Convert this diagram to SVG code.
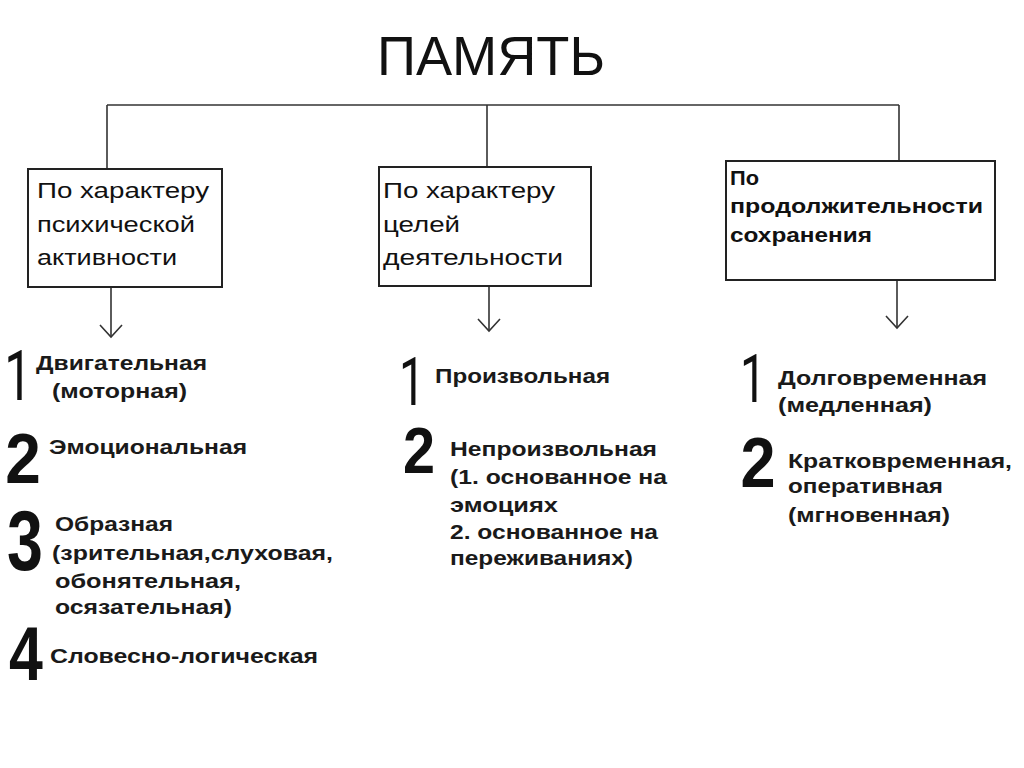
<svg xmlns="http://www.w3.org/2000/svg" width="1024" height="768" viewBox="0 0 1024 768">
<defs>
<style>
.box{fill:#fff;stroke:#222;stroke-width:2}
.ln{fill:none;stroke:#333;stroke-width:1.6}
.bt{font-family:"Liberation Sans Narrow","Liberation Sans",Arial,sans-serif;font-size:22px;fill:#111}
.bt3{font-family:"Liberation Sans",Arial,sans-serif;font-size:20px;font-weight:bold;fill:#111}
.it{font-family:"Liberation Sans",Arial,sans-serif;font-size:20px;font-weight:bold;fill:#1a1a1a}
.d1{font-family:Roboto,"Liberation Sans",Arial,sans-serif;fill:#111;text-anchor:middle}
.d2{font-family:"Liberation Sans",Arial,sans-serif;font-weight:bold;fill:#111;text-anchor:middle}
</style>
<marker id="arr" markerUnits="userSpaceOnUse" viewBox="-14 -12 16 24" refX="0" refY="0" markerWidth="16" markerHeight="24" orient="auto" overflow="visible">
<path d="M-12,-11 L0,0 L-12,11" fill="none" stroke="#333" stroke-width="1.6"/>
</marker>
</defs>
<rect width="1024" height="768" fill="#fff"/>

<g id="title">
<text x="377" y="75" font-family="Liberation Sans, Arial, sans-serif" font-size="56" fill="#111" textLength="228" lengthAdjust="spacingAndGlyphs">ПАМЯТЬ</text>
</g>

<g id="connectors">
<path class="ln" d="M107,105 H899"/>
<path class="ln" d="M107,105 V169"/>
<path class="ln" d="M487,105 V167"/>
<path class="ln" d="M899,105 V161"/>
<path class="ln" d="M111,288 V337" marker-end="url(#arr)"/>
<path class="ln" d="M489,287 V331" marker-end="url(#arr)"/>
<path class="ln" d="M897,281 V328" marker-end="url(#arr)"/>
</g>

<g id="node-activity">
<rect class="box" x="28" y="169" width="194" height="118"/>
<text class="bt" x="37" y="198" textLength="172" lengthAdjust="spacingAndGlyphs">По характеру</text>
<text class="bt" x="37" y="232" textLength="158" lengthAdjust="spacingAndGlyphs">психической</text>
<text class="bt" x="37" y="265" textLength="140" lengthAdjust="spacingAndGlyphs">активности</text>
</g>

<g id="node-goals">
<rect class="box" x="379" y="167" width="212" height="119"/>
<text class="bt" x="383" y="198" textLength="172" lengthAdjust="spacingAndGlyphs">По характеру</text>
<text class="bt" x="383" y="232" textLength="77" lengthAdjust="spacingAndGlyphs">целей</text>
<text class="bt" x="383" y="265" textLength="180" lengthAdjust="spacingAndGlyphs">деятельности</text>
</g>

<g id="node-duration">
<rect class="box" x="726" y="161" width="269" height="119"/>
<text class="bt3" x="730" y="185" textLength="29" lengthAdjust="spacingAndGlyphs">По</text>
<text class="bt3" x="730" y="213" textLength="253" lengthAdjust="spacingAndGlyphs">продолжительности</text>
<text class="bt3" x="730" y="242" textLength="142" lengthAdjust="spacingAndGlyphs">сохранения</text>
</g>

<g id="list-activity">
<text class="d1" transform="translate(18,400) scale(0.7,1)" font-size="70">1</text>
<text class="it" x="36" y="370" textLength="171" lengthAdjust="spacingAndGlyphs">Двигательная</text>
<text class="it" x="52" y="398" textLength="135" lengthAdjust="spacingAndGlyphs">(моторная)</text>
<text class="d2" transform="translate(23,483) scale(0.9,1)" font-size="71">2</text>
<text class="it" x="49" y="454" textLength="198" lengthAdjust="spacingAndGlyphs">Эмоциональная</text>
<text class="d2" transform="translate(25,570) scale(0.75,1)" font-size="86">3</text>
<text class="it" x="55" y="531" textLength="118" lengthAdjust="spacingAndGlyphs">Образная</text>
<text class="it" x="52" y="560" textLength="281" lengthAdjust="spacingAndGlyphs">(зрительная,слуховая,</text>
<text class="it" x="55" y="588" textLength="186" lengthAdjust="spacingAndGlyphs">обонятельная,</text>
<text class="it" x="55" y="614" textLength="177" lengthAdjust="spacingAndGlyphs">осязательная)</text>
<text class="d2" transform="translate(26,680) scale(0.8,1)" font-size="76">4</text>
<text class="it" x="50" y="663" textLength="268" lengthAdjust="spacingAndGlyphs">Словесно-логическая</text>
</g>

<g id="list-goals">
<text class="d1" transform="translate(412,405) scale(0.7,1)" font-size="66">1</text>
<text class="it" x="435" y="383" textLength="175" lengthAdjust="spacingAndGlyphs">Произвольная</text>
<text class="d2" transform="translate(419,473) scale(0.9,1)" font-size="64">2</text>
<text class="it" x="450" y="456" textLength="207" lengthAdjust="spacingAndGlyphs">Непроизвольная</text>
<text class="it" x="450" y="484" textLength="217" lengthAdjust="spacingAndGlyphs">(1. основанное на</text>
<text class="it" x="450" y="512" textLength="108" lengthAdjust="spacingAndGlyphs">эмоциях</text>
<text class="it" x="450" y="539" textLength="208" lengthAdjust="spacingAndGlyphs">2. основанное на</text>
<text class="it" x="450" y="565" textLength="183" lengthAdjust="spacingAndGlyphs">переживаниях)</text>
</g>

<g id="list-duration">
<text class="d1" transform="translate(753,402) scale(0.7,1)" font-size="66">1</text>
<text class="it" x="778" y="385" textLength="209" lengthAdjust="spacingAndGlyphs">Долговременная</text>
<text class="it" x="778" y="412" textLength="154" lengthAdjust="spacingAndGlyphs">(медленная)</text>
<text class="d2" transform="translate(758,487) scale(0.9,1)" font-size="70">2</text>
<text class="it" x="788" y="468" textLength="224" lengthAdjust="spacingAndGlyphs">Кратковременная,</text>
<text class="it" x="788" y="493" textLength="155" lengthAdjust="spacingAndGlyphs">оперативная</text>
<text class="it" x="788" y="522" textLength="162" lengthAdjust="spacingAndGlyphs">(мгновенная)</text>
</g>
</svg>
